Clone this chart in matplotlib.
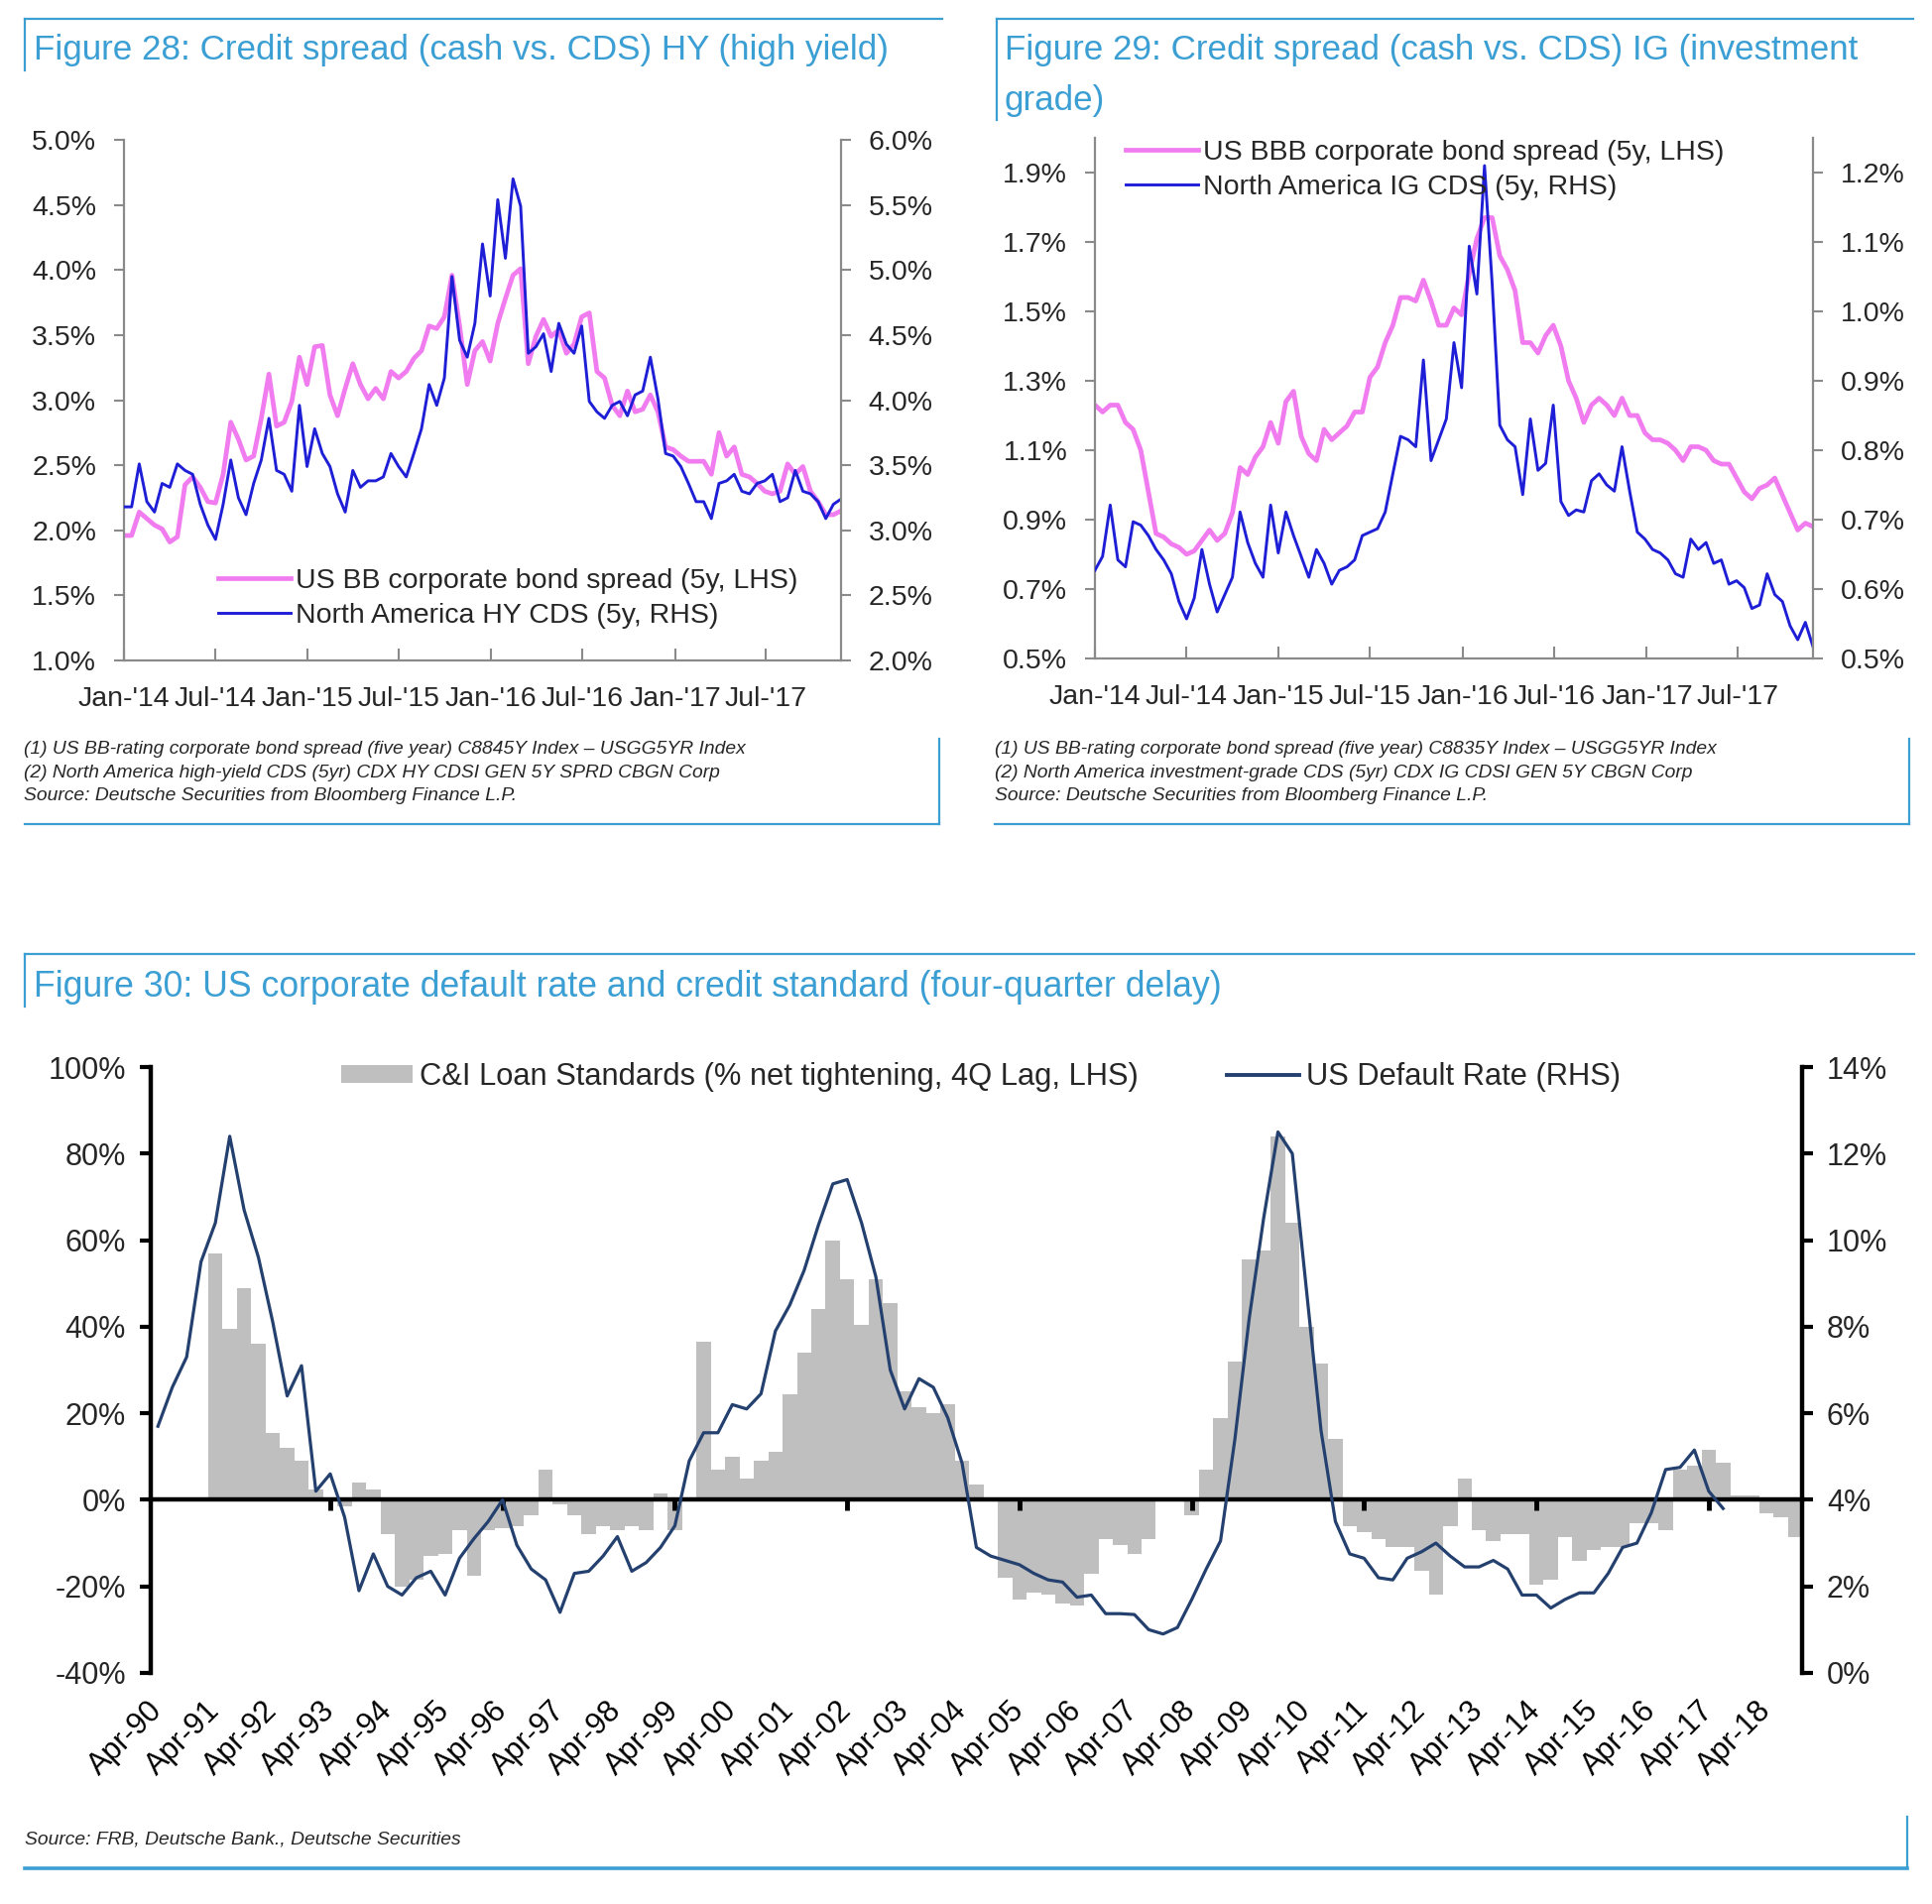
import matplotlib
matplotlib.use("Agg")
import matplotlib.pyplot as plt
import matplotlib.dates as mdates
from matplotlib.lines import Line2D
from matplotlib.patches import Patch
from matplotlib.ticker import FuncFormatter
import numpy as np
import pandas as pd

plt.rcParams['font.family'] = ['Liberation Sans', 'DejaVu Sans']

# ---------------- data: Figure 28 / 29 (semi-monthly, Jan-14 .. Nov-17) ----------------
dates = pd.date_range('2014-01-01', '2017-11-27', periods=95)

bb_spread = [1.96, 1.96, 2.14, 2.09, 2.04, 2.01, 1.91, 1.95, 2.35, 2.41,
             2.33, 2.22, 2.21, 2.43, 2.83, 2.70, 2.54, 2.57, 2.86, 3.20,
             2.80, 2.83, 2.99, 3.33, 3.12, 3.41, 3.42, 3.04, 2.88, 3.09,
             3.28, 3.12, 3.01, 3.09, 3.01, 3.22, 3.17, 3.22, 3.32, 3.38,
             3.57, 3.55, 3.64, 3.96, 3.57, 3.12, 3.38, 3.45, 3.30, 3.59,
             3.78, 3.96, 4.01, 3.28, 3.49, 3.62, 3.49, 3.54, 3.36, 3.43,
             3.64, 3.67, 3.22, 3.17, 2.96, 2.88, 3.07, 2.91, 2.93, 3.04,
             2.91, 2.64, 2.62, 2.57, 2.53, 2.53, 2.53, 2.43, 2.75, 2.57,
             2.64, 2.43, 2.41, 2.36, 2.30, 2.28, 2.30, 2.51, 2.43, 2.49,
             2.30, 2.22, 2.12, 2.12, 2.15]

hy_cds = [3.18, 3.18, 3.51, 3.22, 3.14, 3.36, 3.33, 3.51, 3.46, 3.43,
          3.20, 3.04, 2.93, 3.20, 3.54, 3.25, 3.12, 3.36, 3.54, 3.86,
          3.46, 3.43, 3.30, 3.96, 3.49, 3.78, 3.59, 3.49, 3.28, 3.14,
          3.46, 3.33, 3.38, 3.38, 3.41, 3.59, 3.49, 3.41, 3.59, 3.78,
          4.12, 3.96, 4.17, 4.95, 4.46, 4.33, 4.59, 5.20, 4.80, 5.54,
          5.09, 5.70, 5.49, 4.36, 4.41, 4.51, 4.22, 4.59, 4.43, 4.36,
          4.57, 3.99, 3.91, 3.86, 3.96, 3.99, 3.88, 4.04, 4.07, 4.33,
          4.01, 3.59, 3.57, 3.49, 3.36, 3.22, 3.22, 3.09, 3.36, 3.38,
          3.43, 3.30, 3.28, 3.36, 3.38, 3.43, 3.22, 3.25, 3.46, 3.30,
          3.28, 3.22, 3.09, 3.20, 3.24]

bbb_spread = [1.23, 1.21, 1.23, 1.23, 1.18, 1.16, 1.10, 0.98, 0.86, 0.85,
              0.83, 0.82, 0.80, 0.81, 0.84, 0.87, 0.84, 0.86, 0.92, 1.05,
              1.03, 1.08, 1.11, 1.18, 1.12, 1.24, 1.27, 1.14, 1.09, 1.07,
              1.16, 1.13, 1.15, 1.17, 1.21, 1.21, 1.31, 1.34, 1.41, 1.46,
              1.54, 1.54, 1.53, 1.59, 1.53, 1.46, 1.46, 1.51, 1.49, 1.61,
              1.71, 1.77, 1.77, 1.66, 1.62, 1.56, 1.41, 1.41, 1.38, 1.43,
              1.46, 1.40, 1.30, 1.25, 1.18, 1.23, 1.25, 1.23, 1.20, 1.25,
              1.20, 1.20, 1.15, 1.13, 1.13, 1.12, 1.10, 1.07, 1.11, 1.11,
              1.10, 1.07, 1.06, 1.06, 1.02, 0.98, 0.96, 0.99, 1.00, 1.02,
              0.97, 0.92, 0.87, 0.89, 0.88]

ig_cds = [0.627, 0.647, 0.721, 0.642, 0.632, 0.697, 0.692, 0.677, 0.657, 0.642,
          0.622, 0.582, 0.557, 0.587, 0.657, 0.607, 0.567, 0.592, 0.617, 0.711,
          0.667, 0.637, 0.617, 0.721, 0.652, 0.711, 0.677, 0.647, 0.617, 0.657,
          0.637, 0.607, 0.627, 0.632, 0.642, 0.677, 0.682, 0.687, 0.711, 0.766,
          0.820, 0.815, 0.805, 0.930, 0.785, 0.815, 0.845, 0.955, 0.890, 1.094,
          1.025, 1.210, 1.040, 0.836, 0.815, 0.805, 0.736, 0.845, 0.771, 0.781,
          0.865, 0.726, 0.706, 0.714, 0.711, 0.756, 0.766, 0.750, 0.741, 0.805,
          0.741, 0.682, 0.672, 0.657, 0.652, 0.642, 0.622, 0.617, 0.672, 0.657,
          0.667, 0.637, 0.642, 0.607, 0.612, 0.602, 0.572, 0.577, 0.622, 0.592,
          0.582, 0.547, 0.527, 0.552, 0.517]

# ---------------- data: Figure 30 (quarterly) ----------------
quarters = pd.period_range('1990Q2', '2018Q4', freq='Q')

loan_start = '1991Q2'
loan_std = [57, 39.5, 49, 36, 15.5, 12, 9, 2.5, 0.5, -1.5,
            4, 2.5, -8, -20, -18.5, -13, -12.5, -7, -17.5, -7,
            -6.5, -6, -3.5, 7, -1, -3.5, -8, -6, -7, -6,
            -7, 1.5, -7, 0, 36.5, 7, 10, 5, 9, 11,
            24.5, 34, 44, 60, 51, 40.5, 51, 45.5, 25, 21.5,
            20, 22, 9, 3.5, 0, -18, -23, -21.5, -22, -24,
            -24.5, -17, -9, -10.5, -12.5, -9, 0, 0, -3.5, 7,
            19, 32, 55.5, 57.5, 84, 64, 40, 31.5, 14, -6,
            -7.5, -9, -11, -11, -16.5, -22, -6, 5, -7, -9.5,
            -8, -8, -19.5, -18.5, -8.5, -14, -11.5, -11, -11, -5.5,
            -5.5, -7, 7, 8, 11.5, 8.5, 1, 1, -3, -4,
            -8.5]

default_start = '1990Q2'
default_rate = [5.7, 6.6, 7.3, 9.5, 10.4, 12.4, 10.7, 9.6, 8.1, 6.4,
                7.1, 4.2, 4.6, 3.6, 1.9, 2.75, 2.0, 1.8, 2.2, 2.35,
                1.8, 2.65, 3.1, 3.5, 4.0, 2.95, 2.4, 2.15, 1.4, 2.3,
                2.35, 2.7, 3.15, 2.35, 2.55, 2.9, 3.4, 4.9, 5.55, 5.55,
                6.2, 6.1, 6.45, 7.9, 8.5, 9.3, 10.35, 11.3, 11.4, 10.4,
                9.15, 7.0, 6.1, 6.8, 6.6, 5.9, 4.85, 2.9, 2.7, 2.6,
                2.5, 2.3, 2.15, 2.1, 1.75, 1.8, 1.37, 1.37, 1.35, 1.0,
                0.9, 1.05, 1.7, 2.4, 3.05, 5.4, 8.2, 10.5, 12.5, 12.0,
                8.8, 5.6, 3.5, 2.75, 2.65, 2.2, 2.15, 2.65, 2.8, 3.0,
                2.7, 2.45, 2.45, 2.6, 2.4, 1.8, 1.8, 1.5, 1.7, 1.85,
                1.85, 2.3, 2.9, 3.0, 3.7, 4.7, 4.75, 5.15, 4.2, 3.8]

# ---------------- styling ----------------
TITLE_BLUE = '#3b9fd4'
PINK = '#f07cf0'
BLUE = '#1e1ed6'
NAVY = '#24406f'
BAR_GREY = '#bfbfbf'
AX_GREY = '#8a8a8a'
TXT = '#262626'

W, H = 1949, 1920
fig = plt.figure(figsize=(W / 100, H / 100), dpi=100)


def fx(px):
    return px / W


def fy(py):
    return 1 - py / H


def rule(x0, y0, x1, y1, lw=1.6, color=TITLE_BLUE):
    fig.add_artist(Line2D([fx(x0), fx(x1)], [fy(y0), fy(y1)],
                          transform=fig.transFigure, color=color, lw=lw))


def pct1(v, pos):
    return f"{v:.1f}%"


def spread_panel(x0, x1, y0, y1, cash, cds, ylim_l, ylim_r, ticks_l, ticks_r,
                 labels, leg_x, leg_y):
    ax = fig.add_axes([fx(x0), fy(y1), (x1 - x0) / W, (y1 - y0) / H])
    ax.plot(dates, cash, color=PINK, lw=3.4, solid_joinstyle='round')
    ax.set_xlim(dates[0], dates[-1])
    ax.set_ylim(*ylim_l)
    ax.set_yticks(ticks_l)
    ax.yaxis.set_major_formatter(FuncFormatter(pct1))
    ax.xaxis.set_major_locator(mdates.MonthLocator(bymonth=[1, 7]))
    ax.xaxis.set_major_formatter(mdates.DateFormatter("%b-'%y"))
    ax.tick_params(axis='x', direction='in', length=9, width=1.5, color=AX_GREY,
                   labelsize=20.5, pad=18.5, labelcolor=TXT)
    ax.tick_params(axis='y', direction='out', length=7, width=1.5, color=AX_GREY,
                   labelsize=20.5, pad=13, labelcolor=TXT)
    for s in ['top', 'right']:
        ax.spines[s].set_visible(False)
    for s in ['left', 'bottom']:
        ax.spines[s].set_color(AX_GREY)
        ax.spines[s].set_linewidth(1.6)

    ax2 = ax.twinx()
    ax2.plot(dates, cds, color=BLUE, lw=2.1)
    ax2.set_ylim(*ylim_r)
    ax2.set_yticks(ticks_r)
    ax2.yaxis.set_major_formatter(FuncFormatter(pct1))
    ax2.tick_params(axis='y', direction='out', length=7, width=1.5, color=AX_GREY,
                    labelsize=20.5, pad=13, labelcolor=TXT)
    for s in ['top', 'left', 'bottom']:
        ax2.spines[s].set_visible(False)
    ax2.spines['right'].set_color(AX_GREY)
    ax2.spines['right'].set_linewidth(1.6)

    handles = [Line2D([], [], color=PINK, lw=3.4), Line2D([], [], color=BLUE, lw=2.1)]
    leg = ax2.legend(handles, labels, loc='upper left',
                     bbox_to_anchor=(fx(leg_x), fy(leg_y)), bbox_transform=fig.transFigure,
                     frameon=False, fontsize=20.5, handlelength=2.55, handletextpad=0.2,
                     labelspacing=0.3, borderpad=0, borderaxespad=0)
    for t in leg.get_texts():
        t.set_color(TXT)
    return ax, ax2


# ---------------- Figure 28 ----------------
spread_panel(125, 848, 141, 666, bb_spread, hy_cds, (1.0, 5.0), (2.0, 6.0),
             [1.0, 1.5, 2.0, 2.5, 3.0, 3.5, 4.0, 4.5, 5.0],
             [2.0, 2.5, 3.0, 3.5, 4.0, 4.5, 5.0, 5.5, 6.0],
             ['US BB corporate bond spread (5y, LHS)', 'North America HY CDS (5y, RHS)'],
             220, 573)

# ---------------- Figure 29 ----------------
spread_panel(1104, 1828, 139, 664, bbb_spread, ig_cds, (0.5, 2.0), (0.5, 1.25),
             [0.5, 0.7, 0.9, 1.1, 1.3, 1.5, 1.7, 1.9],
             [0.5, 0.6, 0.7, 0.8, 0.9, 1.0, 1.1, 1.2],
             ['US BBB corporate bond spread (5y, LHS)', 'North America IG CDS (5y, RHS)'],
             1135, 141)

# ---------------- Figure 30 ----------------
qpos = np.arange(len(quarters))
i_loan = quarters.get_loc(pd.Period(loan_start, 'Q'))
i_def = quarters.get_loc(pd.Period(default_start, 'Q'))

axb = fig.add_axes([fx(152), fy(1687), (1817 - 152) / W, (1687 - 1076) / H])
axb.bar(qpos[i_loan:i_loan + len(loan_std)], loan_std, width=1.0,
        color=BAR_GREY, edgecolor='none', zorder=1)
axb.set_xlim(-0.5, len(quarters) - 0.5)
axb.set_ylim(-40, 100)
axb.set_yticks(range(-40, 101, 20))
axb.yaxis.set_major_formatter(FuncFormatter(lambda v, p: f"{v:.0f}%"))
axb.tick_params(axis='y', direction='out', length=8, width=3, color='black',
                labelsize=22, pad=10, labelcolor=TXT)
axb.spines['bottom'].set_position(('data', 0))
axb.spines['bottom'].set_linewidth(3.2)
axb.spines['left'].set_linewidth(3.2)
axb.spines['top'].set_visible(False)
axb.spines['right'].set_visible(False)
zero_ticks = [i for i, q in enumerate(quarters)
              if q.quarter == 2 and (q.year - 1990) % 3 == 0 and q.year > 1990]
axb.set_xticks(zero_ticks)
axb.tick_params(axis='x', direction='out', length=8, width=3.5, color='black',
                labelbottom=False)

lab_pos = [i for i, q in enumerate(quarters) if q.quarter == 2]
lab_txt = [f"Apr-{quarters[i].year % 100:02d}" for i in lab_pos]
sec = axb.secondary_xaxis('bottom')
sec.spines['bottom'].set_visible(False)
sec.set_xticks(lab_pos)
sec.set_xticklabels(lab_txt)
sec.tick_params(axis='x', length=0, pad=24, labelsize=22, labelcolor='black')
for t in sec.get_xticklabels():
    t.set_rotation(45)
    t.set_ha('right')
    t.set_va('center')
    t.set_rotation_mode('anchor')

axt = axb.twinx()
axt.plot(qpos[i_def:i_def + len(default_rate)], default_rate, color=NAVY, lw=2.3)
axt.set_ylim(0, 14)
axt.set_yticks(range(0, 15, 2))
axt.yaxis.set_major_formatter(FuncFormatter(lambda v, p: f"{v:.0f}%"))
axt.tick_params(axis='y', direction='out', length=8, width=3, color='black',
                labelsize=22, pad=10, labelcolor=TXT)
for s in ['top', 'left', 'bottom']:
    axt.spines[s].set_visible(False)
axt.spines['right'].set_linewidth(3.2)

legb = axt.legend([Patch(facecolor=BAR_GREY, edgecolor='none'), Line2D([], [], color=NAVY, lw=2.8)],
                  ['C&I Loan Standards (% net tightening, 4Q Lag, LHS)', 'US Default Rate (RHS)'],
                  ncol=2, loc='upper left', bbox_to_anchor=(fx(344), fy(1071)),
                  bbox_transform=fig.transFigure, frameon=False, fontsize=22.2,
                  handlelength=2.35, handleheight=0.55, handletextpad=0.22,
                  columnspacing=2.9, borderpad=0, borderaxespad=0)
for t in legb.get_texts():
    t.set_color(TXT)

# ---------------- titles, notes, frames ----------------
fig.text(fx(34), fy(60), 'Figure 28: Credit spread (cash vs. CDS) HY (high yield)',
         color=TITLE_BLUE, fontsize=25.2, va='baseline')
fig.text(fx(1013), fy(60), 'Figure 29: Credit spread (cash vs. CDS) IG (investment',
         color=TITLE_BLUE, fontsize=25.2, va='baseline')
fig.text(fx(1013), fy(111), 'grade)', color=TITLE_BLUE, fontsize=25.2, va='baseline')
fig.text(fx(34), fy(1005),
         'Figure 30: US corporate default rate and credit standard (four-quarter delay)',
         color=TITLE_BLUE, fontsize=25.7, va='baseline')

notes28 = ['(1) US BB-rating corporate bond spread (five year) C8845Y Index \u2013 USGG5YR Index',
           '(2) North America high-yield CDS (5yr) CDX HY CDSI GEN 5Y SPRD CBGN Corp',
           'Source: Deutsche Securities from Bloomberg Finance L.P.']
notes29 = ['(1) US BB-rating corporate bond spread (five year) C8835Y Index \u2013 USGG5YR Index',
           '(2) North America investment-grade CDS (5yr) CDX IG CDSI GEN 5Y CBGN Corp',
           'Source: Deutsche Securities from Bloomberg Finance L.P.']
for j, (a, b) in enumerate(zip(notes28, notes29)):
    yb = 760 + j * 23.5
    fig.text(fx(24), fy(yb), a, fontsize=13.9, style='italic', color=TXT, va='baseline')
    fig.text(fx(1003), fy(yb), b, fontsize=13.9, style='italic', color=TXT, va='baseline')
fig.text(fx(25), fy(1860), 'Source: FRB, Deutsche Bank., Deutsche Securities',
         fontsize=13.9, style='italic', color=TXT, va='baseline')

# frames
rule(25, 19, 950, 19)
rule(25, 19, 25, 71)
rule(947, 745, 947, 831)
rule(25, 831, 947, 831)
rule(1005, 19, 1929, 19)
rule(1005, 19, 1005, 121)
rule(1925, 745, 1925, 831)
rule(1003, 831, 1925, 831)
rule(25, 962, 1930, 962)
rule(25, 962, 25, 1015)
rule(1923, 1832, 1923, 1884)
rule(25, 1884, 1923, 1884, lw=2.6)

fig.savefig('out.png', dpi=100)
